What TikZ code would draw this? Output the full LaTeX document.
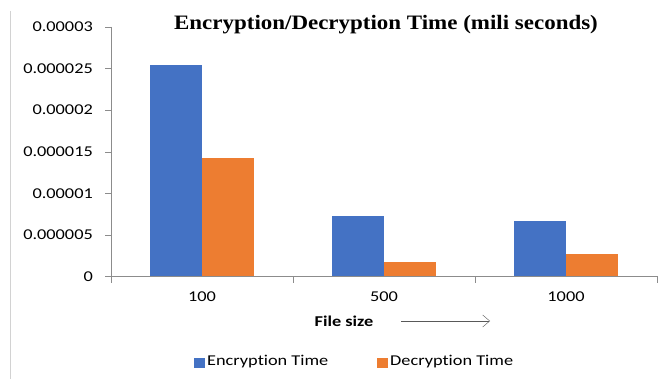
\documentclass[tikz,border=0pt]{standalone}
\usepackage{fontspec}
\setmainfont{Carlito}[FakeStretch=1.22,Ligatures=NoCommon]
\newfontfamily\titlefont{Liberation Serif}[FakeStretch=1.12]
\usetikzlibrary{arrows.meta}

\definecolor{encblue}{HTML}{4472C4}
\definecolor{decorange}{HTML}{ED7D31}
\definecolor{axisgray}{HTML}{8C8C8C}

\begin{document}
\begin{tikzpicture}[x=1pt,y=-1pt,>={Straight Barb[length=7pt,width=12pt]},font=\fontsize{15}{17}\selectfont]

\useasboundingbox (0,0) rectangle (670,379);

% ============================================================
% 1. FRAME AND TITLE
% ============================================================

\draw[gray!35] (10,11) -- (10,379);

\node[font=\titlefont\bfseries\fontsize{20.5}{22}\selectfont] (title) at (386,25)
  {Encryption/Decryption Time (mili seconds)};

% ============================================================
% 2. AXES
% ============================================================

\coordinate (O) at (111,276.5);
\coordinate (Ytop) at (111,27);
\coordinate (Xend) at (657,276.5);
\draw[axisgray] (Ytop) -- (O) -- (Xend);

% y ticks (41.58 px per 0.000005)
\foreach \v/\lab in {0/0,1/0.000005,2/0.00001,3/0.000015,4/0.00002,5/0.000025,6/0.00003}{
  \draw[axisgray] (105,276.5-\v*41.58) -- (111,276.5-\v*41.58);
  \node[anchor=east,inner sep=0pt] (ytick\v) at (93,276.5-\v*41.58) {\lab};
}

% x ticks between categories
\foreach \i in {0,1,2,3}{
  \draw[axisgray] (111+\i*182,276.5) -- (111+\i*182,283);
}

% ============================================================
% 3. BARS (values in 1e-6)
% ============================================================

\foreach \i/\enc/\dec/\lab in {0/25.4/14.3/100,1/7.3/1.75/500,2/6.65/2.7/1000}{
  \fill[encblue] (150+\i*182,276.5) rectangle (202+\i*182,276.5-\enc*8.316);
  \fill[decorange] (202+\i*182,276.5) rectangle (254+\i*182,276.5-\dec*8.316);
  \node (cat\i) at (202+\i*182,297) {\lab};
}

% x label with arrow
\node[font=\bfseries\fontsize{15}{17}\selectfont] (xlab) at (344,321) {File size};
\coordinate (arrS) at (401,321);
\coordinate (arrE) at (490,321);
\draw[black!65,->] (arrS) -- (arrE);

% ============================================================
% 4. LEGEND
% ============================================================

\node[fill=encblue,inner sep=0pt,minimum width=11pt,minimum height=10pt] (encKey) at (199,363) {};
\node[anchor=west,inner sep=0pt] (encLab) at (207,362) {Encryption Time};
\node[fill=decorange,inner sep=0pt,minimum width=11pt,minimum height=10pt] (decKey) at (382,363) {};
\node[anchor=west,inner sep=0pt] (decLab) at (390,362) {Decryption Time};

\end{tikzpicture}
\end{document}
